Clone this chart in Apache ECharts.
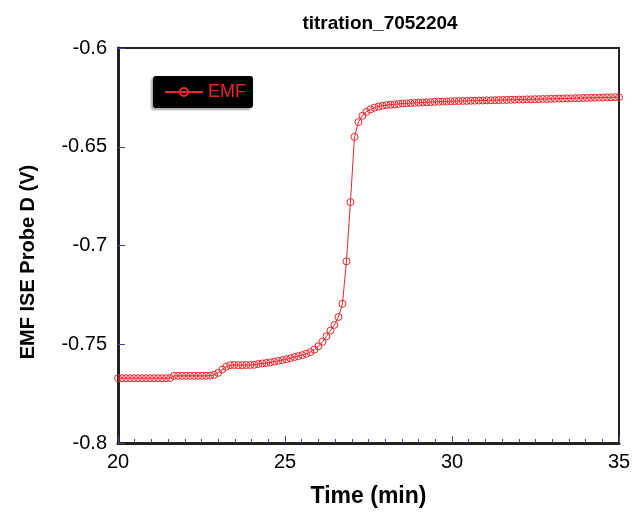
<!DOCTYPE html>
<html>
<head>
<meta charset="UTF-8">
<title>titration_7052204</title>
<script src="https://cdn.jsdelivr.net/npm/echarts@6/dist/echarts.min.js"></script>
<style>
  html, body { margin: 0; padding: 0; background: #fff; }
</style>
</head>
<body>
<div id="main" style="width: 636px;height:515px;"></div>
<script type="text/javascript">
// sampling: start time and interval (min)
var startTime = 20;
var stepTime = 0.12;
// EMF readings (V), one per sample
var emfValues = [
  -0.7672, -0.7672, -0.7672, -0.7672, -0.7672, -0.7672, -0.7672, -0.7672, -0.7672, -0.7672,
  -0.7672, -0.7672, -0.7672, -0.7671, -0.7660, -0.7660, -0.7660, -0.7660, -0.7660, -0.7660,
  -0.7660, -0.7660, -0.7660, -0.7659, -0.7655, -0.7645, -0.7628, -0.7614, -0.7606, -0.7605,
  -0.7606, -0.7606, -0.7605, -0.7605, -0.7604, -0.7600, -0.7597, -0.7595, -0.7592, -0.7588,
  -0.7584, -0.7580, -0.7576, -0.7571, -0.7565, -0.7560, -0.7555, -0.7548, -0.7540, -0.7527,
  -0.7510, -0.7488, -0.7460, -0.7431, -0.7402, -0.7362, -0.7295, -0.7080, -0.6780, -0.6450,
  -0.6375, -0.6343, -0.6323, -0.6311, -0.6302, -0.6296, -0.6292, -0.6289, -0.6287, -0.6285,
  -0.6283, -0.6281, -0.6280, -0.6279, -0.6278, -0.6277, -0.6276, -0.6275, -0.6274, -0.6273,
  -0.6272, -0.6271, -0.6271, -0.6270, -0.6269, -0.6269, -0.6268, -0.6268, -0.6267, -0.6267,
  -0.6266, -0.6266, -0.6265, -0.6265, -0.6264, -0.6264, -0.6263, -0.6263, -0.6262, -0.6262,
  -0.6261, -0.6261, -0.6260, -0.6260, -0.6259, -0.6259, -0.6258, -0.6258, -0.6257, -0.6257,
  -0.6256, -0.6256, -0.6255, -0.6255, -0.6254, -0.6254, -0.6253, -0.6253, -0.6252, -0.6252,
  -0.6251, -0.6251, -0.6250, -0.6250, -0.6249, -0.6249
];
var xTicks = [20, 25, 30, 35];
var yTicks = [-0.8, -0.75, -0.7, -0.65, -0.6];

var points = [];
for (var i = 0; i < emfValues.length; i++) {
  points.push([+(startTime + i * stepTime).toFixed(3), emfValues[i]]);
}

var red = '#e8262a';
var tickBlue = '#3b4a9c';
var font = 'Liberation Sans, Arial, sans-serif';

var myChart = echarts.init(document.getElementById('main'));
var option = {
  animation: false,
  title: {
    text: 'titration_7052204',
    left: 375,
    textAlign: 'center',
    top: 9,
    textStyle: { fontFamily: font, fontSize: 19, fontWeight: 'bold', color: '#000' }
  },
  legend: {
    left: 153,
    top: 76,
    orient: 'vertical',
    backgroundColor: '#000',
    borderRadius: 3,
    shadowColor: 'rgba(0,0,0,0.35)',
    shadowBlur: 2,
    shadowOffsetX: -2,
    shadowOffsetY: 2,
    padding: [7, 7, 7, 11],
    itemWidth: 38,
    itemHeight: 10,
    itemGap: 4,
    textStyle: { fontFamily: font, fontSize: 18, color: red },
    data: ['EMF']
  },
  // y axis title, a little below the plot centre as in the original
  graphic: [{
    type: 'text',
    x: 28,
    y: 262,
    rotation: Math.PI / 2,
    style: {
      text: 'EMF ISE Probe D (V)',
      font: 'bold 20px ' + font,
      fill: '#000',
      textAlign: 'center',
      textVerticalAlign: 'middle'
    }
  }],
  grid: {
    left: 118,
    right: 17,
    top: 48,
    bottom: 72,
    show: true,
    borderColor: '#222',
    borderWidth: 2,
    backgroundColor: '#fff'
  },
  xAxis: {
    type: 'value',
    min: xTicks[0],
    max: xTicks[xTicks.length - 1],
    interval: 5,
    name: 'Time (min)',
    nameLocation: 'middle',
    nameGap: 42,
    nameTextStyle: { fontFamily: font, fontSize: 23, fontWeight: 'bold', color: '#000' },
    axisLine: { onZero: false, lineStyle: { color: '#222', width: 3 } },
    axisTick: { inside: true, length: 7, lineStyle: { color: tickBlue, width: 1 } },
    minorTick: { show: true, splitNumber: 10, length: 4, lineStyle: { color: tickBlue, width: 1 } },
    axisLabel: { fontFamily: font, fontSize: 20, color: '#000', margin: 9 },
    splitLine: { show: false }
  },
  yAxis: {
    type: 'value',
    min: yTicks[0],
    max: yTicks[yTicks.length - 1],
    interval: 0.05,
    axisLine: { onZero: false, lineStyle: { color: '#222', width: 3 } },
    axisTick: { inside: true, length: 7, lineStyle: { color: tickBlue, width: 1 } },
    axisLabel: {
      fontFamily: font, fontSize: 20, color: '#000', margin: 11,
      formatter: function (v) { return String(+v.toFixed(2)); }
    },
    splitLine: { show: false }
  },
  series: [{
    name: 'EMF',
    type: 'line',
    data: points,
    symbol: 'circle',
    symbolSize: 7,
    showAllSymbol: true,
    color: red,
    lineStyle: { color: red, width: 1 },
    itemStyle: { color: 'rgba(255,255,255,0)', borderColor: red, borderWidth: 1 },
    clip: false
  }]
};
myChart.setOption(option);
</script>
</body>
</html>
